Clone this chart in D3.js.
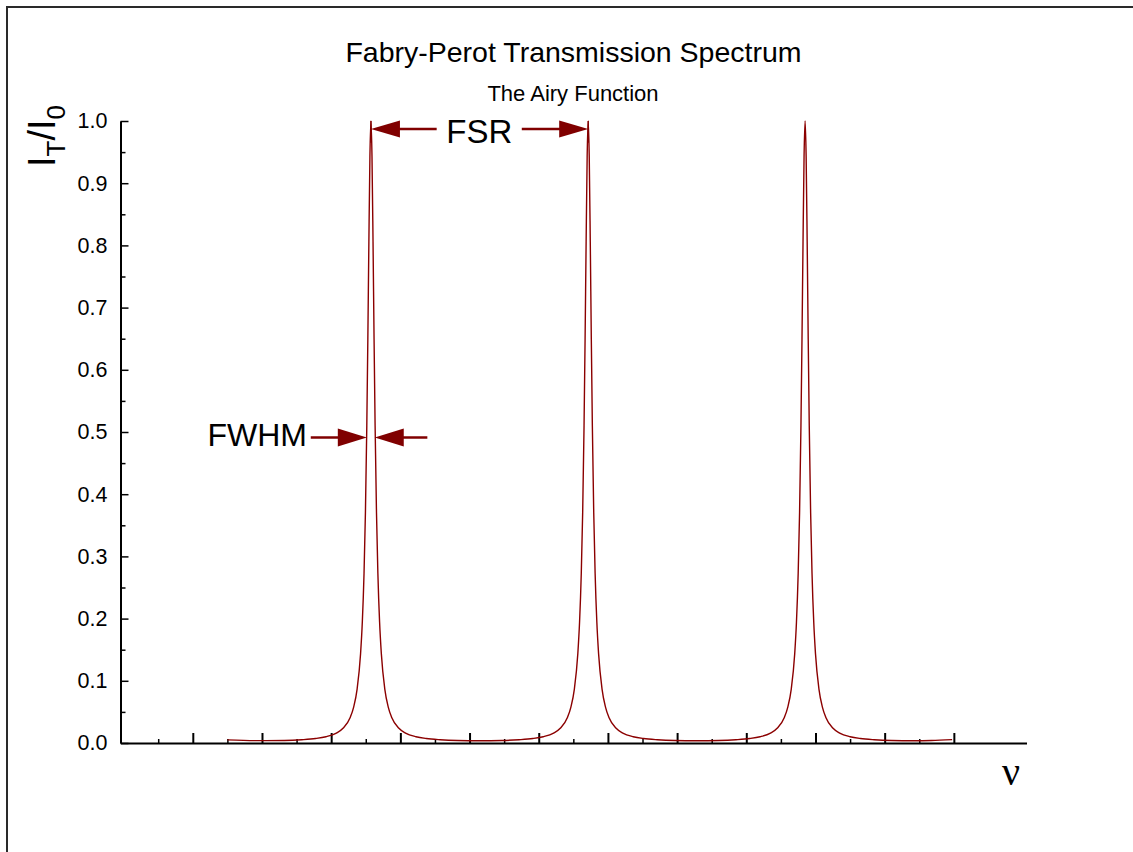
<!DOCTYPE html>
<html lang="en">
<head>
<meta charset="UTF-8">
<title>Fabry-Perot Transmission Spectrum</title>
<style>
    body { margin: 0; background: #fff; }
    text { font-family: "Liberation Sans", Arial, sans-serif; fill: #000; }
    .axis line, .axis path { stroke: #000; }
</style>
</head>
<body>
<svg></svg>
<script src="https://d3js.org/d3.v7.min.js"></script>
<script>

// frequency (arbitrary tick units) and transmission
const nu = [
    3.0, 3.8, 4.65, 5.15, 5.55, 5.85, 6.15, 6.35, 6.55, 6.65, 6.75, 6.85, 6.90, 6.95, 6.99, 7.03, 7.06, 7.09, 7.12,
    7.15,
    7.18, 7.21, 7.24, 7.27, 7.31, 7.35, 7.40, 7.45, 7.55, 7.65, 7.75, 7.95, 8.15, 8.45, 8.75, 9.15, 9.65, 10.29,
    10.93, 11.43, 11.83, 12.13, 12.43, 12.63, 12.83, 12.93, 13.03, 13.13, 13.18, 13.23, 13.27, 13.31, 13.34, 13.37, 13.40,
    13.43,
    13.46, 13.49, 13.52, 13.55, 13.59, 13.63, 13.68, 13.73, 13.83, 13.93, 14.03, 14.23, 14.43, 14.73, 15.03, 15.43, 15.93, 16.565,
    17.20, 17.70, 18.10, 18.40, 18.70, 18.90, 19.10, 19.20, 19.30, 19.40, 19.45, 19.50, 19.54, 19.58, 19.61, 19.64, 19.67,
    19.70,
    19.73, 19.76, 19.79, 19.82, 19.86, 19.90, 19.95, 20.00, 20.10, 20.20, 20.30, 20.50, 20.70, 21.00, 21.30, 21.70, 22.20, 22.84,
    23.35, 23.95
];
const transmission = [
    0.0050, 0.0038, 0.0041, 0.0053, 0.0072, 0.0101, 0.0160, 0.0241, 0.0411, 0.0577, 0.0867, 0.1437, 0.194, 0.273, 0.370, 0.510, 0.649, 0.806, 0.943,
    1.0,
    0.943, 0.806, 0.649, 0.510, 0.370, 0.273, 0.194, 0.1437, 0.0867, 0.0577, 0.0411, 0.0241, 0.0160, 0.0101, 0.0072, 0.0053, 0.0041, 0.0037,
    0.0041, 0.0053, 0.0072, 0.0101, 0.0160, 0.0241, 0.0411, 0.0577, 0.0867, 0.1437, 0.194, 0.273, 0.370, 0.510, 0.649, 0.806, 0.943,
    1.0,
    0.943, 0.806, 0.649, 0.510, 0.370, 0.273, 0.194, 0.1437, 0.0867, 0.0577, 0.0411, 0.0241, 0.0160, 0.0101, 0.0072, 0.0053, 0.0041, 0.0037,
    0.0041, 0.0053, 0.0072, 0.0101, 0.0160, 0.0241, 0.0411, 0.0577, 0.0867, 0.1437, 0.194, 0.273, 0.370, 0.510, 0.649, 0.806, 0.943,
    1.0,
    0.943, 0.806, 0.649, 0.510, 0.370, 0.273, 0.194, 0.1437, 0.0867, 0.0577, 0.0411, 0.0241, 0.0160, 0.0101, 0.0072, 0.0053, 0.0041, 0.0037,
    0.0040, 0.0054
];

const yTicks = [0, 0.1, 0.2, 0.3, 0.4, 0.5, 0.6, 0.7, 0.8, 0.9, 1.0];
const yMinorTicks = [0.05, 0.15, 0.25, 0.35, 0.45, 0.55, 0.65, 0.75, 0.85, 0.95];
const xTicks = [2, 4, 6, 8, 10, 12, 14, 16, 18, 20, 22, 24];
const xMinorTicks = [1, 3, 5, 7, 9, 11, 13, 15, 17, 19, 21, 23];

// annotation arrows: [tail x, tip x, level]
const fsrArrows = [[9.05, 7.15, 0.987], [11.51, 13.43, 0.987]];
const fwhmArrows = [[5.41, 7.03, 0.491], [8.78, 7.26, 0.491]];

const W = 1133, H = 852;
const svg = d3.select('svg').attr('width', W).attr('height', H);
const red = '#800000';

svg.append('rect')
    .attr('x', 7).attr('y', 7)
    .attr('width', W + 20).attr('height', H + 20)
    .attr('fill', '#fff')
    .attr('stroke', '#2a2a2a')
    .attr('stroke-width', 2);

const x = d3.scaleLinear().domain([-0.09, 26.1]).range([120.5, 1026.5]);
const y = d3.scaleLinear().domain([0, 1]).range([743, 121]);

// y axis, ticks pointing inward
svg.append('g')
    .attr('class', 'axis')
    .attr('transform', `translate(${x(-0.09)},0)`)
    .call(d3.axisRight(y).tickValues(yMinorTicks).tickSize(5).tickFormat('').tickSizeOuter(0))
    .call(g => g.select('.domain').remove())
    .selectAll('line').attr('stroke-width', 1.5);

const yAxis = svg.append('g')
    .attr('class', 'axis')
    .attr('transform', `translate(${x(-0.09)},0)`)
    .attr('font-size', 21)
    .attr('font-family', '"Liberation Sans", Arial, sans-serif')
    .call(d3.axisRight(y).tickValues(yTicks).tickSize(8).tickSizeOuter(0).tickFormat(d3.format('.1f')));
yAxis.select('.domain').attr('stroke-width', 2);
yAxis.selectAll('line').attr('stroke-width', 1.5);
yAxis.selectAll('text')
    .attr('x', -13)
    .attr('text-anchor', 'end')
    .style('font-size', '21.5px');

// x axis, ticks pointing up, no labels
svg.append('g')
    .attr('class', 'axis')
    .attr('transform', `translate(0,${y(0)})`)
    .call(d3.axisTop(x).tickValues(xMinorTicks).tickSize(4).tickFormat('').tickSizeOuter(0))
    .call(g => g.select('.domain').remove())
    .selectAll('line').attr('stroke-width', 1.5);

const xAxis = svg.append('g')
    .attr('class', 'axis')
    .attr('transform', `translate(0,${y(0)})`)
    .call(d3.axisTop(x).tickValues(xTicks).tickSize(10).tickFormat('').tickSizeOuter(0));
xAxis.select('.domain').attr('stroke-width', 2.2);
xAxis.selectAll('line').attr('stroke-width', 2);

// spectrum
const points = nu.map((v, i) => [v, transmission[i]]);
svg.append('path')
    .datum(points)
    .attr('fill', 'none')
    .attr('stroke', '#8b0000')
    .attr('stroke-width', 1.4)
    .attr('d', d3.line().x(d => x(d[0])).y(d => y(d[1])).curve(d3.curveMonotoneX));

// arrows
function arrow(a, headLen, headHalf) {
    const [tail, tip, level] = a;
    const x0 = x(tail), x1 = x(tip), yy = y(level);
    const dir = Math.sign(x1 - x0);
    svg.append('line')
        .attr('x1', x0).attr('x2', x1 - dir * headLen * 0.5)
        .attr('y1', yy).attr('y2', yy)
        .attr('stroke', red).attr('stroke-width', 2.5);
    svg.append('path')
        .attr('d', `M${x1},${yy}L${x1 - dir * headLen},${yy - headHalf}L${x1 - dir * headLen},${yy + headHalf}Z`)
        .attr('fill', red);
}
fsrArrows.forEach(a => arrow(a, 29, 8.5));
fwhmArrows.forEach(a => arrow(a, 29, 9));

// small end bars of FSR
fsrArrows.forEach(a => {
    svg.append('line')
        .attr('x1', x(a[1])).attr('x2', x(a[1]))
        .attr('y1', y(1.0)).attr('y2', y(0.965))
        .attr('stroke', red).attr('stroke-width', 1.3);
});

// labels
svg.append('text').attr('x', x(10.28)).attr('y', 142.5)
    .attr('text-anchor', 'middle').attr('font-size', 33).text('FSR');
svg.append('text').attr('x', 307).attr('y', 446)
    .attr('text-anchor', 'end').attr('font-size', 32).text('FWHM');

svg.append('text').attr('x', 573.5).attr('y', 62)
    .attr('text-anchor', 'middle').attr('font-size', 28.5).text('Fabry-Perot Transmission Spectrum');
svg.append('text').attr('x', 573).attr('y', 101)
    .attr('text-anchor', 'middle').attr('font-size', 22).text('The Airy Function');

const ylab = svg.append('text')
    .attr('transform', 'translate(55,136) rotate(-90)')
    .attr('text-anchor', 'middle')
    .attr('font-size', 38);
ylab.append('tspan').text('I');
ylab.append('tspan').attr('font-size', 26).attr('dy', 10).text('T');
ylab.append('tspan').attr('dy', -10).text('/I');
ylab.append('tspan').attr('font-size', 26).attr('dy', 10).text('0');

svg.append('text').attr('x', 1011).attr('y', 785)
    .attr('text-anchor', 'middle')
    .attr('font-size', 40)
    .style('font-family', '"Liberation Serif", "Times New Roman", serif')
    .text('ν');

</script>
</body>
</html>
